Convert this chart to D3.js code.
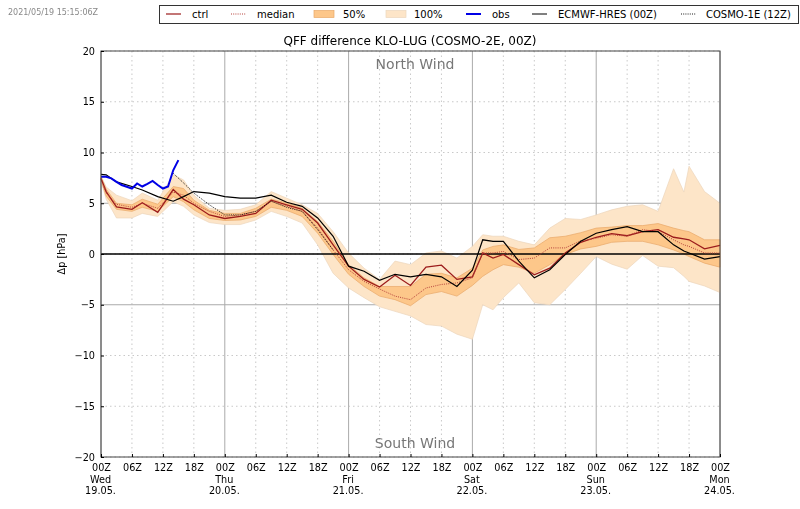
<!DOCTYPE html>
<html lang="en">
<head>
<meta charset="utf-8">
<title>QFF difference KLO-LUG</title>
<script src="https://d3js.org/d3.v7.min.js"></script>
<style>
  html, body { margin: 0; padding: 0; background: white; }
  svg { display: block; filter: blur(0.3px); }
  text { font-family: "DejaVu Sans", sans-serif; fill: #000; }
  .axis path { display: none; }
</style>
</head>
<body>
<svg id="chart" width="800" height="509"></svg>
<script>
// data. hours since 19.05. 00Z
var hours = [0,1,3,6,8,11,14,16,18,21,24,27,30,33,36,39,42,45,48,51,54,57,60,63,66,69,72,74,76,78,81,84,87,90,93,96,99,102,105,108,111,113,114,117,120];
var ctrl =  [7.45,6.15,4.65,4.4,5.05,4.1,6.35,5.4,4.85,3.85,3.5,3.7,4.0,5.3,4.85,4.4,3.05,0.9,-1.2,-2.5,-3.25,-2.1,-3.1,-1.3,-1.1,-2.5,-2.25,0.1,-0.4,-0.05,-1.05,-2.05,-1.4,0.1,1.15,1.65,2.0,1.8,2.2,2.4,1.65,1.5,1.4,0.5,0.85];
var median = [7.4,6.0,4.9,4.6,5.0,4.5,6.1,5.8,5.0,4.2,3.7,3.85,4.2,5.2,4.7,4.2,2.55,0.4,-1.55,-2.7,-3.45,-4.15,-4.5,-3.35,-3.0,-2.85,-2.35,0.1,0.1,0.25,-0.55,-0.4,0.6,0.6,1.3,1.55,1.9,1.75,2.4,2.2,1.4,0.9,0.75,0.1,0.1];
var q25 =   [7.3,5.7,4.4,4.2,4.6,4.2,5.65,5.15,4.35,3.5,3.3,3.35,3.7,4.6,4.3,3.7,2.05,-0.05,-2.0,-3.2,-4.15,-4.5,-5.1,-4.0,-3.7,-4.15,-3.1,-2.2,-1.55,-1.05,-1.3,-1.9,-1.05,-0.05,0.5,0.75,1.15,1.25,1.25,0.9,0.4,0.0,-0.25,-0.9,-1.3];
var q75 =   [7.6,6.4,5.0,4.85,5.4,4.9,6.65,6.45,5.3,4.3,4.0,4.0,4.5,5.4,5.05,4.5,3.2,1.25,-1.05,-2.35,-3.2,-3.2,-3.2,-2.0,-1.9,-2.35,-1.4,0.4,0.75,0.9,0.45,0.6,1.6,1.75,2.1,2.55,2.65,2.8,2.8,3.0,2.55,2.3,2.2,1.4,1.4];
var pMin =  [7.2,5.4,3.55,3.55,4.0,3.7,5.15,4.7,3.85,3.1,2.9,2.9,3.35,4.2,3.7,3.05,0.9,-1.9,-3.35,-4.3,-5.2,-5.65,-6.1,-6.95,-7.1,-7.9,-8.4,-5.0,-5.5,-4.3,-2.85,-4.8,-5.0,-3.5,-1.9,-0.25,-1.0,-1.5,-0.15,-1.2,-1.35,-2.2,-2.7,-3.15,-3.8];
var pMax =  [7.7,6.6,5.8,5.25,6.0,5.3,7.8,7.3,5.8,4.5,4.3,4.4,4.85,6.15,5.5,4.85,4.0,2.2,0.1,-1.4,-2.5,-0.7,-1.05,0.1,0.3,-0.4,0.75,1.9,1.75,1.75,1.25,0.9,2.55,3.5,3.4,3.85,4.35,4.7,4.85,4.2,8.4,6.1,8.65,6.15,5.0];
var ecmwf = [7.85,7.8,7.1,6.65,6.3,5.65,5.2,5.65,6.15,6.0,5.65,5.5,5.5,5.8,5.1,4.7,3.55,1.75,-1.2,-1.7,-2.6,-2.0,-2.25,-2.0,-2.25,-3.2,-1.6,1.4,1.25,1.25,-0.7,-2.35,-1.55,-0.05,1.25,2.05,2.4,2.7,2.2,2.2,0.9,0.3,0.1,-0.5,-0.25];
var cosmo1Hours = [14,16,18,21,24,27,30,33,36,39,42,45];
var cosmo1 = [7.95,7.0,6.0,4.85,3.85,3.85,4.2,5.2,4.6,4.2,2.4,0.4];
var obsHours = [0,1,2,3,4,6,7,8,9,10,11,12,13,14,15];
var obs = [7.6,7.6,7.45,7.1,6.8,6.45,6.95,6.65,6.9,7.2,6.8,6.45,6.65,8.25,9.25];

var yTicks = [-20,-15,-10,-5,0,5,10,15,20];
var xTicks = d3.range(0, 121, 6);
var days = { 0: ["Wed","19.05."], 24: ["Thu","20.05."], 48: ["Fri","21.05."], 72: ["Sat","22.05."], 96: ["Sun","23.05."], 120: ["Mon","24.05."] };

var svg = d3.select("#chart");
var x = d3.scaleLinear().domain([0, 120]).range([101, 720]);
var y = d3.scaleLinear().domain([-20, 20]).range([457, 51]);

// grid
var g = svg.append("g");
g.selectAll("line.v").data(xTicks).enter().append("line")
  .attr("x1", d => x(d)).attr("x2", d => x(d)).attr("y1", y(20)).attr("y2", y(-20))
  .attr("stroke", d => d % 24 == 0 ? "#aaa" : "#bbb")
  .attr("stroke-width", d => d % 24 == 0 ? 1 : 0.8)
  .attr("stroke-dasharray", d => d % 24 == 0 ? null : "1.5,3");
g.selectAll("line.h").data(yTicks).enter().append("line")
  .attr("x1", x(0)).attr("x2", x(120)).attr("y1", d => y(d)).attr("y2", d => y(d))
  .attr("stroke", d => Math.abs(d) == 5 ? "#aaa" : "#bbb")
  .attr("stroke-width", d => Math.abs(d) == 5 ? 1 : 0.8)
  .attr("stroke-dasharray", d => Math.abs(d) == 5 ? null : "1.5,3");

// bands
function band(lo, hi) {
  return d3.area().x((d, i) => x(hours[i])).y0((d, i) => y(lo[i])).y1((d, i) => y(hi[i]))(hours);
}
svg.append("path").attr("d", band(pMin, pMax)).attr("fill", "#fde5c8").attr("stroke", "#ecd6bc").attr("stroke-width", 0.7);
svg.append("path").attr("d", band(q25, q75)).attr("fill", "#fdc78a").attr("stroke", "#e8a868").attr("stroke-width", 0.7);

function curve(xs, ys) {
  return d3.line().x((d, i) => x(xs[i])).y((d, i) => y(ys[i]))(xs);
}
svg.append("line").attr("x1", x(0)).attr("x2", x(120)).attr("y1", y(0)).attr("y2", y(0))
  .attr("stroke", "#000").attr("stroke-width", 1.4);
svg.append("path").attr("d", curve(hours, ctrl)).attr("fill", "none").attr("stroke", "#9c1c1c").attr("stroke-width", 1.3);
svg.append("path").attr("d", curve(hours, median)).attr("fill", "none").attr("stroke", "#b5403a").attr("stroke-width", 1).attr("stroke-dasharray", "1,1.2");
svg.append("path").attr("d", curve(hours, ecmwf)).attr("fill", "none").attr("stroke", "#000").attr("stroke-width", 1.2);
svg.append("path").attr("d", curve(cosmo1Hours, cosmo1)).attr("fill", "none").attr("stroke", "#000").attr("stroke-width", 0.9).attr("stroke-dasharray", "1,1.2");
svg.append("path").attr("d", curve(obsHours, obs)).attr("fill", "none").attr("stroke", "#0000e6").attr("stroke-width", 2);

// frame
svg.append("rect").attr("x", x(0)).attr("y", y(20)).attr("width", x(120) - x(0)).attr("height", y(-20) - y(20))
  .attr("fill", "none").attr("stroke", "#444").attr("stroke-width", 1);

// axes
var yAxis = d3.axisLeft(y).tickValues(yTicks).tickSizeInner(-3).tickSizeOuter(0).tickPadding(6).tickFormat(d => d < 0 ? "\u2212" + Math.abs(d) : d);
var ya = svg.append("g").attr("class", "axis").attr("transform", "translate(" + x(0) + ",0)").call(yAxis);
ya.selectAll("text").attr("font-size", 9.7).style("font-family", '"DejaVu Sans"');

var xAxis = d3.axisBottom(x).tickValues(xTicks).tickSizeInner(-3).tickSizeOuter(0).tickPadding(7).tickFormat(d => d3.format("02")(d % 24) + "Z");
var xa = svg.append("g").attr("class", "axis").attr("transform", "translate(0," + y(-20) + ")").call(xAxis);
xa.selectAll("text").attr("font-size", 9.7).style("font-family", '"DejaVu Sans"')
  .each(function(d) {
    if (!days[d]) return;
    var t = d3.select(this);
    days[d].forEach(function(s) { t.append("tspan").attr("x", -1).attr("dy", "1.2em").text(s); });
  });

// texts
svg.append("text").attr("x", 410).attr("y", 45).attr("text-anchor", "middle").attr("font-size", 12).text("QFF difference KLO-LUG (COSMO-2E, 00Z)");
svg.append("text").attr("x", 415).attr("y", 69).attr("text-anchor", "middle").attr("font-size", 14).style("fill", "#777").text("North Wind");
svg.append("text").attr("x", 415).attr("y", 448).attr("text-anchor", "middle").attr("font-size", 14).style("fill", "#777").text("South Wind");
svg.append("text").attr("x", 8).attr("y", 15).attr("font-size", 8).style("fill", "#888").text("2021/05/19 15:15:06Z");
svg.append("text").attr("transform", "translate(65,254) rotate(-90)").attr("text-anchor", "middle").attr("font-size", 9.7).text("\u0394p [hPa]");

// legend
var lg = svg.append("g");
lg.append("rect").attr("x", 159.5).attr("y", 5.5).attr("width", 639).attr("height", 18).attr("fill", "white").attr("stroke", "#333").attr("stroke-width", 1);
function lgLine(x0, tx, label, col, w, dash) {
  lg.append("line").attr("x1", x0).attr("x2", x0 + 15).attr("y1", 14).attr("y2", 14).attr("stroke", col).attr("stroke-width", w).attr("stroke-dasharray", dash);
  lg.append("text").attr("x", tx).attr("y", 17.5).attr("font-size", 10).text(label);
}
function lgPatch(x0, tx, label, col, edge) {
  lg.append("rect").attr("x", x0).attr("y", 10.5).attr("width", 20).attr("height", 7).attr("fill", col).attr("stroke", edge).attr("stroke-width", 0.7);
  lg.append("text").attr("x", tx).attr("y", 17.5).attr("font-size", 10).text(label);
}
lgLine(166, 192, "ctrl", "#9c1c1c", 1.2, null);
lgLine(231, 257, "median", "#b5403a", 1, "1,1.2");
lgPatch(314, 343, "50%", "#fdc78a", "#e8a868");
lgPatch(386, 414, "100%", "#fde5c8", "#ecd6bc");
lgLine(466, 492, "obs", "#0000e6", 2, null);
lgLine(532, 558, "ECMWF-HRES (00Z)", "#000", 1, null);
lgLine(681, 706, "COSMO-1E (12Z)", "#000", 0.9, "1,1.2");
</script>
</body>
</html>
